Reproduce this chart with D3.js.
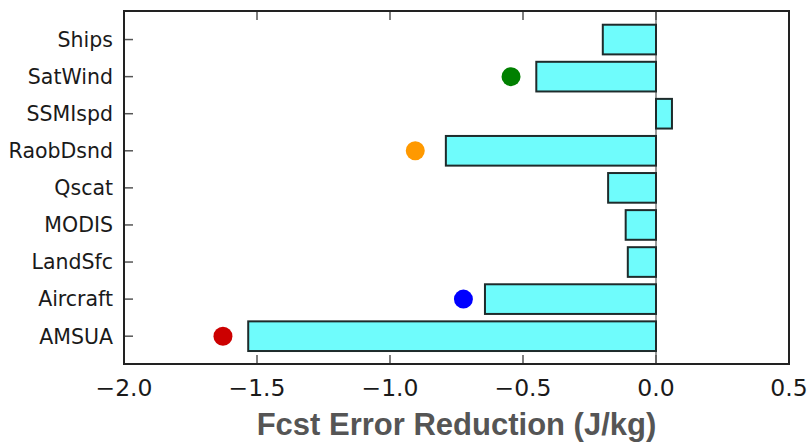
<!DOCTYPE html>
<html>
<head>
<meta charset="utf-8">
<script src="https://cdn.jsdelivr.net/npm/d3@7"></script>
<style>
  body { margin: 0; background: #fff; }
  .ylab { font-family: "DejaVu Sans", Verdana, sans-serif; font-size: 20.5px; fill: #1a1a1a; }
  .xtick { font-family: "DejaVu Sans", Verdana, sans-serif; font-size: 23.5px; fill: #1a1a1a; }
  .xtitle { font-family: "Liberation Sans", Arial, sans-serif; font-size: 31px; font-weight: bold; fill: #555; }
</style>
</head>
<body>
<div id="chart"></div>
<script>
// data, top to bottom as drawn
var categories = ["Ships", "SatWind", "SSMIspd", "RaobDsnd", "Qscat", "MODIS", "LandSfc", "Aircraft", "AMSUA"];
var values = [-0.20, -0.45, 0.06, -0.79, -0.18, -0.114, -0.106, -0.643, -1.533];
var dotCats = ["SatWind", "RaobDsnd", "Aircraft", "AMSUA"];
var dotValues = [-0.545, -0.905, -0.724, -1.628];
var dotColors = ["#008000", "#ff9900", "#0000ff", "#cc0000"];
var xTicks = [-2.0, -1.5, -1.0, -0.5, 0.0, 0.5];

var svgWidth = 811;
var svgHeight = 443;
var margin = { top: 11, right: 22, bottom: 79, left: 124 };
var width = svgWidth - margin.left - margin.right;
var height = svgHeight - margin.top - margin.bottom;

var svg = d3.select("#chart")
  .append("svg")
  .attr("width", svgWidth)
  .attr("height", svgHeight);

var chartGroup = svg.append("g")
  .attr("transform", `translate(${margin.left}, ${margin.top})`);

var xScale = d3.scaleLinear()
  .domain([-2.0, 0.5])
  .range([0, width]);

// index scale, category 0 at top
var yScale = d3.scaleLinear()
  .domain([-0.77, categories.length - 0.25])
  .range([0, height]);
var step = yScale(1) - yScale(0);
var barH = step * 0.8;

// zero line
chartGroup.append("line")
  .attr("x1", xScale(0)).attr("x2", xScale(0))
  .attr("y1", 0).attr("y2", height)
  .attr("stroke", "#777")
  .attr("stroke-width", 1.5);

// bars
chartGroup.selectAll("rect.bar")
  .data(values)
  .enter()
  .append("rect")
  .attr("class", "bar")
  .attr("x", d => xScale(Math.min(0, d)))
  .attr("width", d => Math.abs(xScale(d) - xScale(0)))
  .attr("y", (d, i) => yScale(i) - barH / 2)
  .attr("height", barH)
  .attr("fill", "#6ffcfc")
  .attr("stroke", "#1e2b2b")
  .attr("stroke-width", 2);

// dots
chartGroup.selectAll("circle")
  .data(dotValues)
  .enter()
  .append("circle")
  .attr("cx", d => xScale(d))
  .attr("cy", (d, i) => yScale(categories.indexOf(dotCats[i])))
  .attr("r", 9.5)
  .attr("fill", (d, i) => dotColors[i]);

// ticks inside, top and bottom
var tickGroup = chartGroup.append("g");
xTicks.forEach(function(t) {
  tickGroup.append("line")
    .attr("x1", xScale(t)).attr("x2", xScale(t))
    .attr("y1", height).attr("y2", height - 9)
    .attr("stroke", "#555").attr("stroke-width", 1.5);
  tickGroup.append("line")
    .attr("x1", xScale(t)).attr("x2", xScale(t))
    .attr("y1", 0).attr("y2", 9)
    .attr("stroke", "#555").attr("stroke-width", 1.5);
});

chartGroup.selectAll("text.xtick")
  .data(xTicks)
  .enter()
  .append("text")
  .attr("class", "xtick")
  .attr("x", d => xScale(d))
  .attr("y", height + 32)
  .attr("text-anchor", "middle")
  .text(d => d3.format(".1f")(d).replace("-", "\u2212"));

categories.forEach(function(c, i) {
  chartGroup.append("line")
    .attr("x1", 0).attr("x2", 9)
    .attr("y1", yScale(i)).attr("y2", yScale(i))
    .attr("stroke", "#555").attr("stroke-width", 1.5);
  chartGroup.append("text")
    .attr("class", "ylab")
    .attr("x", -11)
    .attr("y", yScale(i))
    .attr("dy", "0.36em")
    .attr("text-anchor", "end")
    .text(c);
});

// frame
chartGroup.append("rect")
  .attr("x", 0).attr("y", 0)
  .attr("width", width).attr("height", height)
  .attr("fill", "none")
  .attr("stroke", "#222")
  .attr("stroke-width", 2);

chartGroup.append("text")
  .attr("class", "xtitle")
  .attr("x", width / 2)
  .attr("y", height + 71)
  .attr("text-anchor", "middle")
  .text("Fcst Error Reduction (J/kg)");
</script>
</body>
</html>
